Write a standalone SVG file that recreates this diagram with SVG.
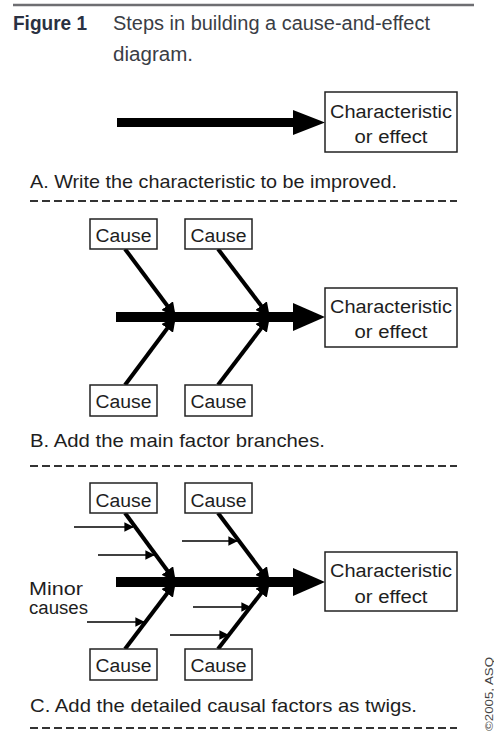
<svg xmlns="http://www.w3.org/2000/svg" width="494" height="731" viewBox="0 0 494 731">
  <style>
    .t { font-family: "Liberation Sans", Arial, sans-serif; fill: #1e1e1e; }
    .cap { font-size: 19px; }
    .lbl { font-size: 18px; text-anchor: middle; }
    .box { fill: #ffffff; stroke: #222; stroke-width: 1.5; }
    .dash { stroke: #333; stroke-width: 2; stroke-dasharray: 8 4; }
    .spine { stroke: #000; stroke-width: 10; }
    .bone { stroke: #000; stroke-width: 4; fill: none; }
    .twig { stroke: #000; stroke-width: 1.6; fill: none; }
  </style>
  <defs>
    <marker id="headBone" viewBox="0 0 10 10" refX="9" refY="5" markerWidth="3.6" markerHeight="3.6" orient="auto" markerUnits="strokeWidth">
      <path d="M0,0 L10,5 L0,10 z" fill="#000"/>
    </marker>
    <marker id="headTwig" viewBox="0 0 10 10" refX="9" refY="5" markerWidth="6" markerHeight="6" orient="auto" markerUnits="strokeWidth">
      <path d="M0,0 L10,5 L0,10 z" fill="#000"/>
    </marker>
  </defs>

  <rect width="494" height="731" fill="#ffffff"/>

  <!-- heading -->
  <g id="heading">
    <line x1="13" y1="5" x2="474" y2="5" stroke="#6e6e72" stroke-width="2.5"/>
    <text class="t" x="13" y="30" font-size="20" font-weight="bold" style="fill:#2a3142" textLength="74" lengthAdjust="spacingAndGlyphs">Figure 1</text>
    <text class="t" x="113" y="30" font-size="20" style="fill:#3a3d45" textLength="317" lengthAdjust="spacingAndGlyphs">Steps in building a cause-and-effect</text>
    <text class="t" x="113" y="61" font-size="20" style="fill:#3a3d45" textLength="80" lengthAdjust="spacingAndGlyphs">diagram.</text>
  </g>

  <!-- ===== Panel A ===== -->
  <g id="panelA-connectors">
    <line class="spine" x1="117" y1="122.5" x2="296" y2="122.5" style="stroke-width:9"/>
    <polygon points="293,110 325,122.5 293,135" fill="#000"/>
  </g>
  <g id="panelA-effect">
    <rect class="box" x="325" y="92" width="132" height="60"/>
    <text class="t lbl" x="391" y="118" textLength="122" lengthAdjust="spacingAndGlyphs">Characteristic</text>
    <text class="t lbl" x="391" y="143" textLength="73" lengthAdjust="spacingAndGlyphs">or effect</text>
  </g>
  <text class="t cap" x="30" y="188" textLength="367" lengthAdjust="spacingAndGlyphs">A. Write the characteristic to be improved.</text>
  <line class="dash" x1="30" y1="201" x2="457" y2="201"/>

  <!-- ===== Panel B ===== -->
  <g id="panelB-connectors">
    <line class="spine" x1="116" y1="317" x2="296" y2="317"/>
    <polygon points="293,303 325,317 293,331" fill="#000"/>
    <line class="bone" x1="125" y1="249" x2="175" y2="316" marker-end="url(#headBone)"/>
    <line class="bone" x1="218" y1="249" x2="269" y2="316" marker-end="url(#headBone)"/>
    <line class="bone" x1="125" y1="385" x2="175" y2="318" marker-end="url(#headBone)"/>
    <line class="bone" x1="218" y1="385" x2="269" y2="318" marker-end="url(#headBone)"/>
  </g>
  <g id="panelB-cause1">
    <rect class="box" x="90" y="219" width="67" height="30"/>
    <text class="t lbl" x="123.5" y="242" textLength="56" lengthAdjust="spacingAndGlyphs">Cause</text>
  </g>
  <g id="panelB-cause2">
    <rect class="box" x="185" y="219" width="67" height="30"/>
    <text class="t lbl" x="218.5" y="242" textLength="56" lengthAdjust="spacingAndGlyphs">Cause</text>
  </g>
  <g id="panelB-cause3">
    <rect class="box" x="90" y="385" width="67" height="31"/>
    <text class="t lbl" x="123.5" y="408" textLength="56" lengthAdjust="spacingAndGlyphs">Cause</text>
  </g>
  <g id="panelB-cause4">
    <rect class="box" x="185" y="385" width="67" height="31"/>
    <text class="t lbl" x="218.5" y="408" textLength="56" lengthAdjust="spacingAndGlyphs">Cause</text>
  </g>
  <g id="panelB-effect">
    <rect class="box" x="325" y="288" width="132" height="59"/>
    <text class="t lbl" x="391" y="313" textLength="122" lengthAdjust="spacingAndGlyphs">Characteristic</text>
    <text class="t lbl" x="391" y="338" textLength="73" lengthAdjust="spacingAndGlyphs">or effect</text>
  </g>
  <text class="t cap" x="30" y="447" textLength="295" lengthAdjust="spacingAndGlyphs">B. Add the main factor branches.</text>
  <line class="dash" x1="30" y1="466" x2="457" y2="466"/>

  <!-- ===== Panel C ===== -->
  <g id="panelC-connectors">
    <line class="spine" x1="116" y1="582" x2="296" y2="582"/>
    <polygon points="293,568 325,582 293,596" fill="#000"/>
    <line class="bone" x1="125" y1="513" x2="175" y2="581" marker-end="url(#headBone)"/>
    <line class="bone" x1="218" y1="513" x2="269" y2="581" marker-end="url(#headBone)"/>
    <line class="bone" x1="125" y1="649" x2="175" y2="583" marker-end="url(#headBone)"/>
    <line class="bone" x1="218" y1="649" x2="269" y2="583" marker-end="url(#headBone)"/>
    <!-- twigs -->
    <line class="twig" x1="74" y1="527" x2="133" y2="527" marker-end="url(#headTwig)"/>
    <line class="twig" x1="98" y1="555" x2="154" y2="555" marker-end="url(#headTwig)"/>
    <line class="twig" x1="182" y1="541" x2="237" y2="541" marker-end="url(#headTwig)"/>
    <line class="twig" x1="87" y1="622" x2="144" y2="622" marker-end="url(#headTwig)"/>
    <line class="twig" x1="193" y1="607" x2="250" y2="607" marker-end="url(#headTwig)"/>
    <line class="twig" x1="170" y1="635" x2="228" y2="635" marker-end="url(#headTwig)"/>
  </g>
  <g id="panelC-cause1">
    <rect class="box" x="90" y="483" width="67" height="30"/>
    <text class="t lbl" x="123.5" y="507" textLength="56" lengthAdjust="spacingAndGlyphs">Cause</text>
  </g>
  <g id="panelC-cause2">
    <rect class="box" x="185" y="483" width="67" height="30"/>
    <text class="t lbl" x="218.5" y="507" textLength="56" lengthAdjust="spacingAndGlyphs">Cause</text>
  </g>
  <g id="panelC-cause3">
    <rect class="box" x="90" y="649" width="67" height="31"/>
    <text class="t lbl" x="123.5" y="672" textLength="56" lengthAdjust="spacingAndGlyphs">Cause</text>
  </g>
  <g id="panelC-cause4">
    <rect class="box" x="185" y="649" width="67" height="31"/>
    <text class="t lbl" x="218.5" y="672" textLength="56" lengthAdjust="spacingAndGlyphs">Cause</text>
  </g>
  <g id="panelC-effect">
    <rect class="box" x="325" y="552" width="132" height="59"/>
    <text class="t lbl" x="391" y="577" textLength="122" lengthAdjust="spacingAndGlyphs">Characteristic</text>
    <text class="t lbl" x="391" y="603" textLength="73" lengthAdjust="spacingAndGlyphs">or effect</text>
  </g>
  <g id="panelC-minor">
    <text class="t" x="29" y="595" font-size="18" textLength="54" lengthAdjust="spacingAndGlyphs">Minor</text>
    <text class="t" x="29" y="614" font-size="18" textLength="59" lengthAdjust="spacingAndGlyphs">causes</text>
  </g>
  <text class="t cap" x="30" y="712" textLength="387" lengthAdjust="spacingAndGlyphs">C. Add the detailed causal factors as twigs.</text>
  <line class="dash" x1="30" y1="728" x2="457" y2="728"/>

  <!-- credit line, set vertically -->
  <text class="t" transform="translate(493,731) rotate(-90)" font-size="11" style="fill:#444" textLength="74" lengthAdjust="spacingAndGlyphs">©2005, ASQ</text>
</svg>
